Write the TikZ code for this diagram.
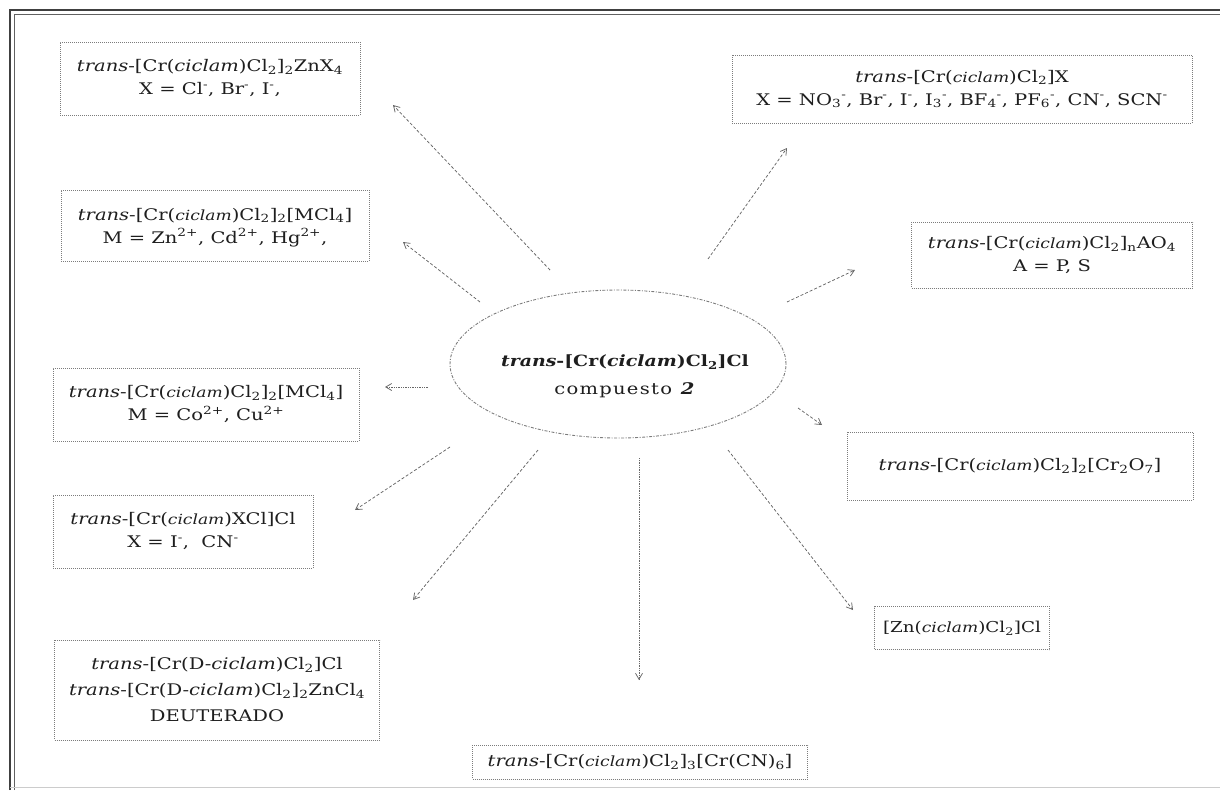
\documentclass[tikz,border=0pt]{standalone}
\usepackage{fontspec}
\setmainfont{DejaVu Serif}[FakeStretch=1.22]
\newfontfamily\spacedfont{DejaVu Serif}[FakeStretch=1.22, LetterSpace=8]
\usetikzlibrary{arrows.meta,shapes.geometric}
\definecolor{ink}{HTML}{1E1E1E}
\definecolor{edge}{HTML}{7C7C7C}
\definecolor{wire}{HTML}{666666}
\newcommand{\sbs}[1]{\textsubscript{#1}}
\newcommand{\sps}[1]{\textsuperscript{#1}}
\newcommand{\tr}{\textit{trans}}
\newcommand{\cic}{{\itshape\fontsize{14}{14}\selectfont ciclam}}

\begin{document}
\begin{tikzpicture}[x=1pt,y=-1pt,
  box/.style={draw=edge, densely dotted, line width=1pt, align=center,
    text=ink, inner sep=0pt, font=\fontsize{16}{23}\selectfont},
  conn/.style={draw=wire, line width=0.75pt, densely dashed,
    -{Straight Barb[length=6pt,width=7pt]}},
  dconn/.style={conn, densely dotted},
  ]
\useasboundingbox (0,0) rectangle (1220,790);

% page frame
\draw[ink!85, line width=1.6pt] (10,790) -- (10,10) -- (1220,10);
\draw[ink!70, line width=0.7pt] (14,790) -- (14,14) -- (1220,14);
\draw[gray!40, line width=1pt] (10,787) -- (1220,787);

% central compound
\node[draw=edge, line width=0.9pt, dash pattern=on 3pt off 1.5pt on 1pt off 1.5pt,
  ellipse, minimum width=336, minimum height=148, inner sep=0pt] (ell) at (618,364) {};
\node[align=center, text=ink, inner sep=0pt, font=\fontsize{16}{28}\selectfont] (elltext) at (625,376)
  {{\bfseries\fontsize{15.5}{28}\selectfont\textit{trans}-[Cr(\textit{ciclam})Cl\sbs{2}]Cl}\\
   {\spacedfont compuesto \textbf{\textit{2}}}};

% derived compounds
\node[box, minimum width=300, minimum height=73] (A) at (210,78.5)
  {\tr-[Cr(\textit{ciclam})Cl\sbs{2}]\sbs{2}ZnX\sbs{4}\\ X = Cl\sps{-}, Br\sps{-}, I\sps{-},};
\node[box, minimum width=460, minimum height=68] (B) at (962,89)
  {\tr-[Cr(\cic)Cl\sbs{2}]X\\ X = NO\sbs{3}\sps{-}, Br\sps{-}, I\sps{-}, I\sbs{3}\sps{-}, BF\sbs{4}\sps{-}, PF\sbs{6}\sps{-}, CN\sps{-}, SCN\sps{-}};
\node[box, minimum width=308, minimum height=71, text depth=-6pt] (C) at (215,225.5)
  {\tr-[Cr(\cic)Cl\sbs{2}]\sbs{2}[MCl\sbs{4}]\\ M = Zn\sps{2+}, Cd\sps{2+}, Hg\sps{2+},};
\node[box, minimum width=281, minimum height=66] (D) at (1052,255)
  {\tr-[Cr(\cic)Cl\sbs{2}]\sbs{n}AO\sbs{4}\\ A = P, S};
\node[box, minimum width=306, minimum height=73] (E) at (206,404.5)
  {\tr-[Cr(\cic)Cl\sbs{2}]\sbs{2}[MCl\sbs{4}]\\ M = Co\sps{2+}, Cu\sps{2+}};
\node[box, minimum width=346, minimum height=68] (F) at (1020,466)
  {\tr-[Cr(\cic)Cl\sbs{2}]\sbs{2}[Cr\sbs{2}O\sbs{7}]};
\node[box, minimum width=260, minimum height=73] (G) at (183,531.5)
  {\tr-[Cr(\cic)XCl]Cl\\ X = I\sps{-}, \ CN\sps{-}};
\node[box, minimum width=175, minimum height=43, font=\fontsize{15}{23}\selectfont] (H) at (962,628)
  {[Zn(\cic)Cl\sbs{2}]Cl};
\node[box, minimum width=325, minimum height=100, font=\fontsize{16}{26}\selectfont] (I) at (217,690)
  {\tr-[Cr(D-\textit{ciclam})Cl\sbs{2}]Cl\\ \tr-[Cr(D-\textit{ciclam})Cl\sbs{2}]\sbs{2}ZnCl\sbs{4}\\ DEUTERADO};
\node[box, minimum width=335, minimum height=34] (J) at (640,762)
  {\tr-[Cr(\cic)Cl\sbs{2}]\sbs{3}[Cr(CN)\sbs{6}]};

% connector ends
\coordinate (tA) at (550,270); \coordinate (hA) at (393,105);
\coordinate (tB) at (708,259); \coordinate (hB) at (787,148);
\coordinate (tC) at (480,302); \coordinate (hC) at (403,242);
\coordinate (tD) at (787,302); \coordinate (hD) at (855,270);
\coordinate (tE) at (428,387); \coordinate (hE) at (385,387);
\coordinate (tF) at (798,408); \coordinate (hF) at (822,425);
\coordinate (tG) at (450,447); \coordinate (hG) at (355,510);
\coordinate (tH) at (728,450); \coordinate (hH) at (853,610);
\coordinate (tI) at (538,450); \coordinate (hI) at (413,600);
\coordinate (tJ) at (639,458); \coordinate (hJ) at (639,680);

\draw[conn] (tA) -- (hA);
\draw[conn] (tB) -- (hB);
\draw[conn] (tC) -- (hC);
\draw[conn] (tD) -- (hD);
\draw[dconn] (tE) -- (hE);
\draw[conn] (tF) -- (hF);
\draw[conn] (tG) -- (hG);
\draw[conn] (tH) -- (hH);
\draw[conn] (tI) -- (hI);
\draw[dconn] (tJ) -- (hJ);
\end{tikzpicture}
\end{document}
